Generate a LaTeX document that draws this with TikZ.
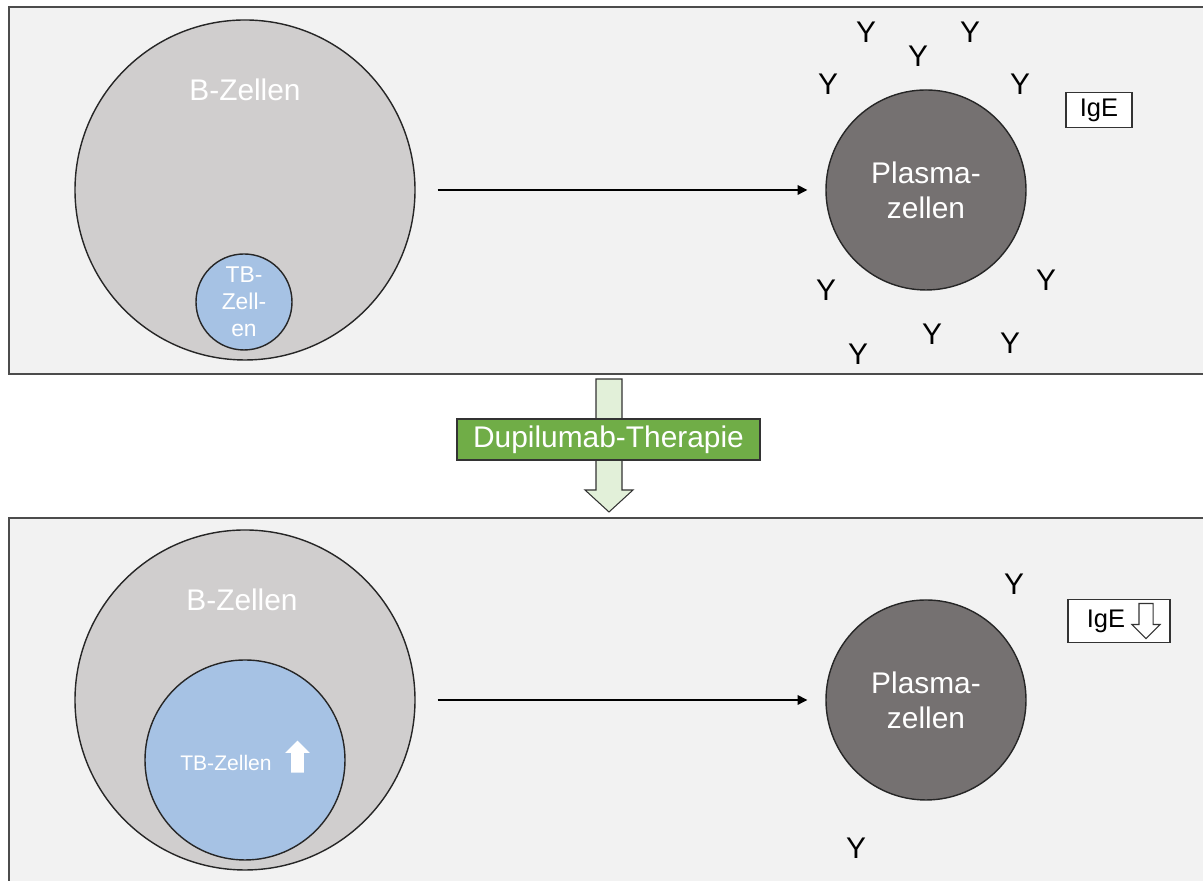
\documentclass[tikz,border=0pt]{standalone}
\usepackage{fontspec}
\setmainfont{Liberation Sans}
\usetikzlibrary{arrows.meta,positioning,shapes.arrows}
\definecolor{panelgray}{RGB}{242,242,242}
\definecolor{bcellgray}{RGB}{208,206,206}
\definecolor{tbblue}{RGB}{166,194,228}
\definecolor{plasmagray}{RGB}{117,113,113}
\definecolor{dupigreen}{RGB}{112,173,71}
\definecolor{arrowgreen}{RGB}{226,240,217}

\begin{document}
\begin{tikzpicture}[
  every node/.style={font=\fontsize{17}{20}\selectfont},
  panel/.style={draw=black!70, fill=panelgray, line width=1pt},
  bcell/.style={circle, draw=black!85, fill=bcellgray, line width=0.8pt, minimum size=6.8cm, inner sep=0pt},
  tbcell/.style={circle, draw=black!85, fill=tbblue, line width=0.8pt, inner sep=0pt, text=white, align=center},
  plasma/.style={circle, draw=black!85, fill=plasmagray, line width=0.8pt, minimum size=4cm, inner sep=0pt, text=white, align=center},
  antibody/.style={inner sep=0pt},
  igebox/.style={draw=black!80, fill=white, line width=0.6pt, font=\fontsize{14.5}{17}\selectfont},
  flow/.style={-{Triangle[length=5.5pt,width=5.5pt]}, line width=0.7pt}
]
  \useasboundingbox (0,0) rectangle (24.06,17.62);

  % Panels (top = before, bottom = after therapy)
  \draw[panel] (0.18,10.14) rectangle (24.4,17.48);
  \draw[panel] (0.18,-0.3) rectangle (24.4,7.26);

  % Top panel: B cells with small TB pool
  \node[bcell] (bcell1) at (4.9,13.82) {};
  \node[text=white] (blabel1) at (4.9,15.82) {B-Zellen};
  \node[tbcell, minimum size=1.92cm, font=\fontsize{13}{15.5}\selectfont] (tbcell1) at (4.88,11.58) {TB-\\Zell-\\en};

  % Top panel: plasma cell with many IgE
  \node[plasma] (plasma1) at (18.52,13.82) {Plasma-\\zellen};
  \draw[flow] ([xshift=0.44cm]bcell1.east) -- ([xshift=-0.36cm]plasma1.west);
  \node[antibody] (y1) at (17.32,16.98) {Y};
  \node[antibody] (y2) at (19.40,16.98) {Y};
  \node[antibody] (y3) at (18.36,16.50) {Y};
  \node[antibody] (y4) at (16.56,15.94) {Y};
  \node[antibody] (y5) at (20.40,15.94) {Y};
  \node[antibody] (y6) at (20.92,12.02) {Y};
  \node[antibody] (y7) at (16.52,11.82) {Y};
  \node[antibody] (y8) at (18.64,10.94) {Y};
  \node[antibody] (y9) at (20.20,10.76) {Y};
  \node[antibody] (y10) at (17.16,10.54) {Y};
  \node[igebox, minimum width=1.32cm, minimum height=0.68cm] (ige1) at (21.98,15.42) {IgE};

  % Therapy block arrow between panels
  \draw[draw=black!80, fill=arrowgreen, line width=0.6pt] (11.92,10.04) -- (12.44,10.04) -- (12.44,7.82) -- (12.66,7.82) -- (12.18,7.38) -- (11.70,7.82) -- (11.92,7.82) -- cycle;
  \node[draw=black!80, fill=dupigreen, line width=0.6pt, text=white, minimum width=6.06cm, minimum height=0.82cm, inner sep=0pt] (therapy) at (12.17,8.83) {Dupilumab-Therapie};

  % Bottom panel: B cells with enlarged TB pool
  \node[bcell] (bcell2) at (4.9,3.62) {};
  \node[text=white] (blabel2) at (4.84,5.62) {B-Zellen};
  \node[tbcell, minimum size=4cm] (tbcell2) at (4.9,2.42) {};
  \node[text=white, font=\fontsize{12}{14}\selectfont, inner sep=0pt] (tblabel2) at (4.52,2.36) {TB-Zellen};
  \node[single arrow, fill=white, shape border rotate=90, minimum height=0.64cm, minimum width=0.48cm, inner sep=0.12cm, single arrow head extend=0.12cm, anchor=tail] (tbup) at (5.95,2.16) {};

  % Bottom panel: plasma cell with few IgE
  \node[plasma] (plasma2) at (18.52,3.62) {Plasma-\\zellen};
  \draw[flow] ([xshift=0.44cm]bcell2.east) -- ([xshift=-0.36cm]plasma2.west);
  \node[antibody] (y11) at (20.28,5.94) {Y};
  \node[antibody] (y12) at (17.12,0.66) {Y};
  \node[igebox, minimum width=2.04cm, minimum height=0.86cm] (ige2) at (22.38,5.2) {};
  \node[font=\fontsize{14.5}{17}\selectfont, inner sep=0pt, anchor=west] (igetext2) at ([xshift=0.38cm]ige2.west) {IgE};
  \node[single arrow, draw=black!80, fill=white, line width=0.6pt, shape border rotate=270, minimum height=0.7cm, minimum width=0.56cm, inner sep=0.13cm, single arrow head extend=0.14cm, anchor=tail] (igedown) at (22.92,5.56) {};

\end{tikzpicture}
\end{document}
